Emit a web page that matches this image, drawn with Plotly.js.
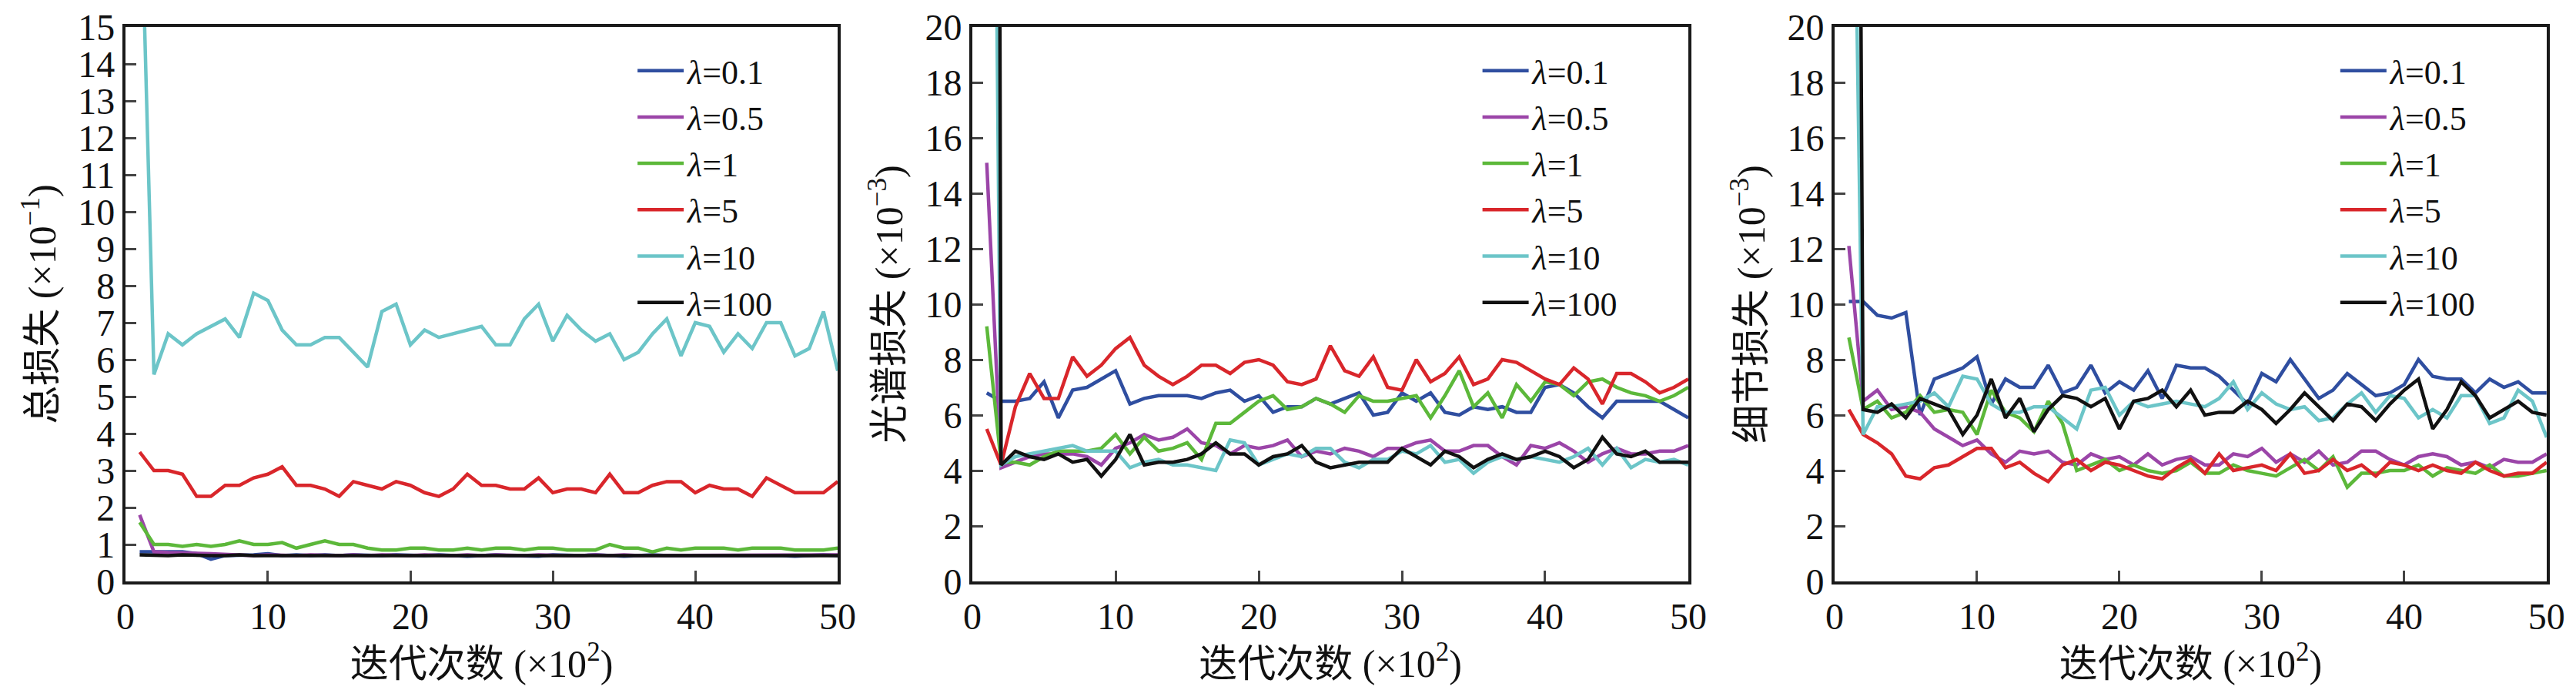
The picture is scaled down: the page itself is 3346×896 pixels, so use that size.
<!DOCTYPE html>
<html><head><meta charset="utf-8">
<script src="https://cdn.plot.ly/plotly-3.0.1.min.js"></script>
<style>body{margin:0;background:#fff}#c{width:3346px;height:896px}</style>
</head><body><div id="c"></div>
<script>
const iters = Array.from({length:50},(_,i)=>i+1);
const names = ['<i>λ</i>=0.1','<i>λ</i>=0.5','<i>λ</i>=1','<i>λ</i>=5','<i>λ</i>=10','<i>λ</i>=100'];
const colors = ['#2f4ea0','#9b45a8','#5cb83a','#d9262b','#6cc5c8','#111111'];

// Total loss (x10^-1)
const total_01 = [0.8,0.8,0.8,0.8,0.75,0.6,0.7,0.7,0.72,0.75,0.7,0.72,0.7,0.72,0.7,0.72,0.7,0.7,0.72,0.7,0.7,0.72,0.7,0.68,0.7,0.72,0.7,0.7,0.68,0.72,0.7,0.7,0.72,0.7,0.68,0.7,0.72,0.7,0.7,0.72,0.7,0.7,0.72,0.7,0.7,0.7,0.68,0.7,0.72,0.7];
const total_05 = [1.8,0.8,0.78,0.76,0.76,0.75,0.74,0.72,0.7,0.72,0.7,0.7,0.72,0.7,0.7,0.72,0.7,0.72,0.7,0.7,0.72,0.7,0.7,0.72,0.7,0.72,0.7,0.7,0.72,0.7,0.7,0.7,0.72,0.7,0.72,0.7,0.7,0.7,0.72,0.7,0.7,0.72,0.7,0.7,0.72,0.7,0.7,0.72,0.7,0.72];
const total_1 = [1.6,1.0,1.0,0.95,1.0,0.95,1.0,1.1,1.0,1.0,1.05,0.9,1.0,1.1,1.0,1.0,0.9,0.85,0.85,0.9,0.9,0.85,0.85,0.9,0.85,0.9,0.9,0.85,0.9,0.9,0.85,0.85,0.85,1.0,0.9,0.9,0.8,0.9,0.85,0.9,0.9,0.9,0.85,0.9,0.9,0.9,0.85,0.85,0.85,0.9];
const total_5 = [3.5,3.0,3.0,2.9,2.3,2.3,2.6,2.6,2.8,2.9,3.1,2.6,2.6,2.5,2.3,2.7,2.6,2.5,2.7,2.6,2.4,2.3,2.5,2.9,2.6,2.6,2.5,2.5,2.8,2.4,2.5,2.5,2.4,2.9,2.4,2.4,2.6,2.7,2.7,2.4,2.6,2.5,2.5,2.3,2.8,2.6,2.4,2.4,2.4,2.7];
const total_10 = [20,5.6,6.7,6.4,6.7,6.9,7.1,6.6,7.8,7.6,6.8,6.4,6.4,6.6,6.6,6.2,5.8,7.3,7.5,6.4,6.8,6.6,6.7,6.8,6.9,6.4,6.4,7.1,7.5,6.5,7.2,6.8,6.5,6.7,6.0,6.2,6.7,7.1,6.1,7.0,6.9,6.2,6.7,6.3,7.0,7.0,6.1,6.3,7.3,5.7];
const total_100 = [0.72,0.7,0.7,0.72,0.7,0.7,0.7,0.72,0.7,0.7,0.7,0.7,0.72,0.7,0.7,0.7,0.7,0.7,0.72,0.7,0.7,0.7,0.7,0.7,0.72,0.7,0.7,0.7,0.7,0.7,0.72,0.7,0.7,0.7,0.7,0.7,0.72,0.7,0.7,0.7,0.7,0.7,0.72,0.7,0.7,0.7,0.7,0.7,0.72,0.7];

// Spectral loss (x10^-3)
const spec_01 = [6.8,6.5,6.5,6.6,7.2,5.9,6.9,7.0,7.3,7.6,6.4,6.6,6.7,6.7,6.7,6.6,6.8,6.9,6.5,6.7,6.1,6.3,6.3,6.6,6.4,6.6,6.8,6.0,6.1,6.8,6.5,6.8,6.1,6.0,6.3,6.2,6.3,6.1,6.1,7.0,7.1,6.8,6.3,5.9,6.5,6.5,6.5,6.5,6.2,5.9];
const spec_05 = [15.1,4.1,4.3,4.5,4.6,4.6,4.6,4.5,4.2,4.8,5.0,5.3,5.1,5.2,5.5,5.0,4.9,4.6,4.9,4.8,4.9,5.1,4.5,4.7,4.6,4.8,4.7,4.5,4.8,4.8,5.0,5.1,4.7,4.7,4.9,4.9,4.5,4.2,4.9,4.8,5.0,4.7,4.3,4.6,4.8,4.6,4.6,4.7,4.7,4.9];
const spec_1 = [9.2,4.3,4.3,4.2,4.5,4.7,4.7,4.7,4.8,5.3,4.6,5.2,4.7,4.8,5.0,4.4,5.7,5.7,6.1,6.5,6.7,6.2,6.3,6.6,6.4,6.1,6.7,6.5,6.5,6.6,6.7,5.9,6.7,7.6,6.3,6.8,5.9,7.1,6.5,7.2,7.1,6.7,7.2,7.3,7.0,6.8,6.7,6.5,6.7,7.0];
const spec_5 = [5.5,4.2,6.3,7.5,6.6,6.6,8.1,7.4,7.8,8.4,8.8,7.8,7.4,7.1,7.4,7.8,7.8,7.5,7.9,8.0,7.8,7.2,7.1,7.3,8.5,7.6,7.4,8.1,7.0,6.9,8.0,7.2,7.5,8.1,7.1,7.3,8.0,7.9,7.6,7.3,7.1,7.7,7.3,6.4,7.5,7.5,7.2,6.8,7.0,7.3];
const spec_10 = [60,4.2,4.5,4.6,4.7,4.8,4.9,4.7,4.7,4.7,4.1,4.3,4.4,4.2,4.2,4.1,4.0,5.1,5.0,4.2,4.4,4.6,4.5,4.8,4.8,4.3,4.1,4.4,4.4,4.7,4.6,4.9,4.3,4.4,3.9,4.3,4.5,4.4,4.5,4.4,4.3,4.5,4.8,4.2,4.8,4.1,4.4,4.3,4.4,4.2];
const spec_100 = [200,4.2,4.7,4.5,4.4,4.6,4.3,4.4,3.8,4.4,5.3,4.2,4.3,4.3,4.4,4.6,5.0,4.6,4.6,4.2,4.5,4.6,4.9,4.3,4.1,4.2,4.3,4.3,4.3,4.8,4.5,4.2,4.7,4.5,4.1,4.4,4.6,4.4,4.5,4.7,4.5,4.1,4.4,5.2,4.6,4.5,4.7,4.3,4.3,4.3];

// Detail loss (x10^-3)
const det_01 = [10.1,10.1,9.6,9.5,9.7,6.0,7.3,7.5,7.7,8.1,6.4,7.3,7.0,7.0,7.8,6.8,7.0,7.8,6.8,7.2,6.9,7.6,6.6,7.8,7.7,7.7,7.4,6.9,6.4,7.5,7.2,8.0,7.3,6.6,6.9,7.5,7.1,6.7,6.8,7.1,8.0,7.4,7.3,7.3,6.8,7.3,7.0,7.2,6.8,6.8];
const det_05 = [12.1,6.5,6.9,6.2,6.3,6.1,5.5,5.2,4.9,5.1,4.6,4.3,4.7,4.6,4.7,4.3,4.2,4.6,4.4,4.5,4.2,4.6,4.2,4.4,4.5,4.2,4.2,4.6,4.5,4.8,4.3,4.6,4.3,4.7,4.2,4.3,4.7,4.7,4.4,4.2,4.5,4.6,4.5,4.2,4.3,4.1,4.4,4.3,4.3,4.6];
const det_1 = [8.8,6.2,6.5,5.9,6.1,6.7,6.1,6.2,6.1,5.3,6.9,6.1,5.9,5.4,6.5,5.7,4.0,4.2,4.4,4.0,4.2,4.0,3.9,4.0,4.3,3.9,3.9,4.2,4.0,3.9,3.8,4.1,4.4,4.0,4.5,3.4,3.9,3.9,4.0,4.0,4.2,3.8,4.1,4.0,3.9,4.2,3.8,3.8,3.9,4.0];
const det_5 = [6.2,5.3,5.0,4.6,3.8,3.7,4.1,4.2,4.5,4.8,4.8,4.1,4.3,3.9,3.6,4.2,4.4,4.0,4.3,4.2,4.0,3.8,3.7,4.1,4.4,3.9,4.6,4.0,4.1,4.2,4.0,4.6,3.9,4.0,4.4,4.0,4.2,3.8,4.3,4.2,4.0,4.2,4.0,3.9,4.3,4.0,3.8,3.9,3.9,4.3];
const det_10 = [40,5.3,6.3,6.3,6.4,6.5,6.8,6.3,7.4,7.3,6.4,6.1,6.1,6.3,6.3,5.9,5.5,6.9,7.0,6.0,6.5,6.3,6.4,6.5,6.4,6.3,6.6,7.2,6.2,6.8,6.4,6.2,6.3,5.8,5.9,6.4,6.8,6.1,6.7,6.6,5.9,6.2,5.9,6.7,6.7,5.7,5.9,6.9,6.5,5.2];
const det_100 = [100,6.2,6.1,6.4,5.9,6.6,6.4,6.2,5.3,6.0,7.3,5.9,6.6,5.4,6.2,6.7,6.6,6.3,6.6,5.5,6.5,6.6,6.9,6.3,6.9,6.0,6.1,6.1,6.5,6.2,5.7,6.2,6.8,6.3,5.8,6.4,6.3,5.8,6.4,6.9,7.3,5.5,6.2,7.2,6.7,5.9,6.2,6.5,6.1,6.0];

const panels = [
  {data:[total_01,total_05,total_1,total_5,total_10,total_100], x:'x', y:'y', leg:'legend'},
  {data:[spec_01,spec_05,spec_1,spec_5,spec_10,spec_100], x:'x2', y:'y2', leg:'legend2'},
  {data:[det_01,det_05,det_1,det_5,det_10,det_100], x:'x3', y:'y3', leg:'legend3'}
];
const traces = [];
panels.forEach(p=>{
  p.data.forEach((d,i)=>{
    traces.push({x:iters, y:d, xaxis:p.x, yaxis:p.y, legend:p.leg, name:names[i], mode:'lines',
      line:{color:colors[i], width:4.5}, showlegend:true});
  });
});

const F = '"Liberation Serif", "DejaVu Serif", "Noto Sans CJK SC", serif';
const tickf = {family:F, size:48, color:'#111'};
function xa(dom){return {domain:dom, range:[0,50], dtick:10, ticks:'inside', ticklen:14, tickwidth:3,
  showline:true, linewidth:4, linecolor:'#1a1a1a', mirror:true, showgrid:false, zeroline:false,
  tickfont:tickf, title:{text:'迭代次数 (×10<sup>2</sup>)', font:{family:F,size:50,color:'#111'}, standoff:8}};}
function ya(max, dt, title){return {domain:[0,1], range:[0,max], dtick:dt, ticks:'inside', ticklen:14, tickwidth:3,
  showline:true, linewidth:4, linecolor:'#1a1a1a', mirror:true, showgrid:false, zeroline:false,
  tickfont:tickf, title:{text:title, font:{family:F,size:50,color:'#111'}, standoff:14}};}
function lg(x){return {x:x, y:0.97, xanchor:'left', yanchor:'top', bgcolor:'rgba(0,0,0,0)',
  font:{family:F,size:44,color:'#111'}, tracegroupgap:0, itemwidth:60};}

const layout = {
  width:3346, height:896, paper_bgcolor:'#fff', plot_bgcolor:'#fff',
  margin:{l:0, r:0, t:35, b:141},
  xaxis: xa([0.0487,0.3252]), xaxis2: xa([0.3775,0.6554]), xaxis3: xa([0.7122,0.9886]),
  yaxis: Object.assign(ya(15,1,'总损失 (×10<sup>−1</sup>)'),{anchor:'x'}),
  yaxis2: Object.assign(ya(20,2,'光谱损失 (×10<sup>−3</sup>)'),{anchor:'x2'}),
  yaxis3: Object.assign(ya(20,2,'细节损失 (×10<sup>−3</sup>)'),{anchor:'x3'}),
  legend: lg(0.246), legend2: lg(0.574), legend3: lg(0.907)
};
layout.xaxis.anchor='y'; layout.xaxis2.anchor='y2'; layout.xaxis3.anchor='y3';
Plotly.newPlot('c', traces, layout, {staticPlot:true});
</script></body></html>
